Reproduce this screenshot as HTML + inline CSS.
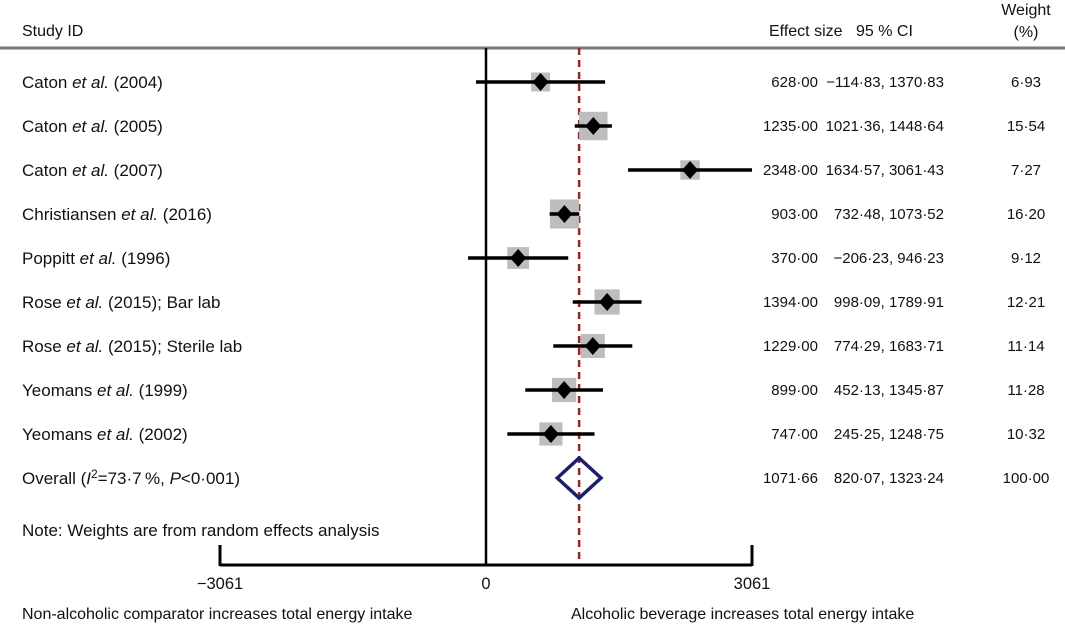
<!DOCTYPE html>
<html><head><meta charset="utf-8"><style>
body{margin:0;background:#fff;}
svg text{font-family:"Liberation Sans",sans-serif;font-size:15px;fill:#111;}
</style></head><body>
<svg id="c" width="1065" height="623" xmlns="http://www.w3.org/2000/svg">
<g id="hdr">
<text x="22" y="36" font-size="16" style="font-size:16px">Study ID</text>
<text x="769" y="36" style="font-size:16px">Effect size</text>
<text x="856" y="36" style="font-size:16px">95 % CI</text>
<text x="1026" y="15" text-anchor="middle" style="font-size:16px">Weight</text>
<text x="1026" y="37" text-anchor="middle" style="font-size:16px">(%)</text>
<line x1="0" y1="48" x2="1065" y2="48" stroke="#777" stroke-width="3"/>
</g>
<g id="plot"></g>
</svg>
<script>
const studies=["Caton et al. (2004)","Caton et al. (2005)","Caton et al. (2007)","Christiansen et al. (2016)","Poppitt et al. (1996)","Rose et al. (2015); Bar lab","Rose et al. (2015); Sterile lab","Yeomans et al. (1999)","Yeomans et al. (2002)"];
const effects=[628,1235,2348,903,370,1394,1229,899,747];
const lower=[-114.83,1021.36,1634.57,732.48,-206.23,998.09,774.29,452.13,245.25];
const upper=[1370.83,1448.64,3061.43,1073.52,946.23,1789.91,1683.71,1345.87,1248.75];
const weights=[6.93,15.54,7.27,16.20,9.12,12.21,11.14,11.28,10.32];
const overall=[1071.66,820.07,1323.24];
const ticks=[-3061,0,3061];

const ns="http://www.w3.org/2000/svg";
const g=document.getElementById('plot');
const X=v=>486+v*266/3061;
const Y=i=>82+i*44;
const fmt=v=>(v<0?"\u2212":"")+Math.abs(v).toFixed(2).replace(".","\u00b7");
function mk(t,a,txt){const e=document.createElementNS(ns,t);for(const k in a)e.setAttribute(k,a[k]);if(txt!==undefined)e.textContent=txt;g.appendChild(e);return e;}

let e;
e=mk('line',{x1:X(0),y1:48,x2:X(0),y2:565,stroke:'#000','stroke-width':2.5});


e=mk('line',{x1:X(overall[0]),y1:48,x2:X(overall[0]),y2:565,stroke:'#8b2d2d','stroke-width':2.5,'stroke-dasharray':'7,5'});



studies.forEach((s,i)=>{
  const y=Y(i);
  const m=s.match(/^(\S+) et al\.(.*)$/);
  e=mk('text',{x:22,y:y+6,style:'font-size:17px'});
  
  
  e.innerHTML=m[1]+' <tspan font-style="italic">et al.</tspan>'+m[2];
  const side=19*Math.sqrt(weights[i]/6.93);
  e=mk('rect',{x:X(effects[i])-side/2,y:y-side/2,width:side,height:side,fill:'#bdbdbd'});
  
  
  e=mk('line',{x1:X(lower[i]),y1:y,x2:X(upper[i]),y2:y,stroke:'#000','stroke-width':3.5});
  
  
  const cx=X(effects[i]);
  e=mk('polygon',{points:`${cx-8},${y} ${cx},${y-9} ${cx+8},${y} ${cx},${y+9}`,fill:'#000'});
  
  
  e=mk('text',{x:818,y:y+5,'text-anchor':'end'},fmt(effects[i]));
  
  
  e=mk('text',{x:944,y:y+5,'text-anchor':'end'},fmt(lower[i])+", "+fmt(upper[i]));
  
  
  e=mk('text',{x:1026,y:y+5,'text-anchor':'middle'},fmt(weights[i]));
  
  
});
const oy=Y(9);
e=mk('text',{x:22,y:oy+6,style:'font-size:17px'});


e.innerHTML='Overall (<tspan font-style="italic">I</tspan><tspan dy="-6" style="font-size:12px">2</tspan><tspan dy="6">=73\u00b77\u2009%, </tspan><tspan font-style="italic">P</tspan>&lt;0\u00b7001)';
e=mk('polygon',{points:`${X(overall[1])},${oy} ${X(overall[0])},${oy-20} ${X(overall[2])},${oy} ${X(overall[0])},${oy+20}`,fill:'none',stroke:'#1a1f6e','stroke-width':3.5});


e=mk('text',{x:818,y:oy+5,'text-anchor':'end'},fmt(overall[0]));


e=mk('text',{x:944,y:oy+5,'text-anchor':'end'},fmt(overall[1])+", "+fmt(overall[2]));


e=mk('text',{x:1026,y:oy+5,'text-anchor':'middle'},"100\u00b700");


e=mk('text',{x:22,y:536,style:'font-size:17px'},"Note: Weights are from random effects analysis");



e=mk('line',{x1:X(ticks[0]),y1:565,x2:X(ticks[2]),y2:565,stroke:'#000','stroke-width':3});


ticks.forEach(t=>{
  if(t!==0){e=mk('line',{x1:X(t),y1:545,x2:X(t),y2:566,stroke:'#000','stroke-width':3});
  
  }
  e=mk('text',{x:X(t),y:589,'text-anchor':'middle',style:'font-size:16.5px'},(t<0?"\u2212":"")+Math.abs(t));
  
  
});
e=mk('text',{x:22,y:619,style:'font-size:16px'},"Non-alcoholic comparator increases total energy intake");


e=mk('text',{x:571,y:619,style:'font-size:16px'},"Alcoholic beverage increases total energy intake");


</script>
</body></html>
